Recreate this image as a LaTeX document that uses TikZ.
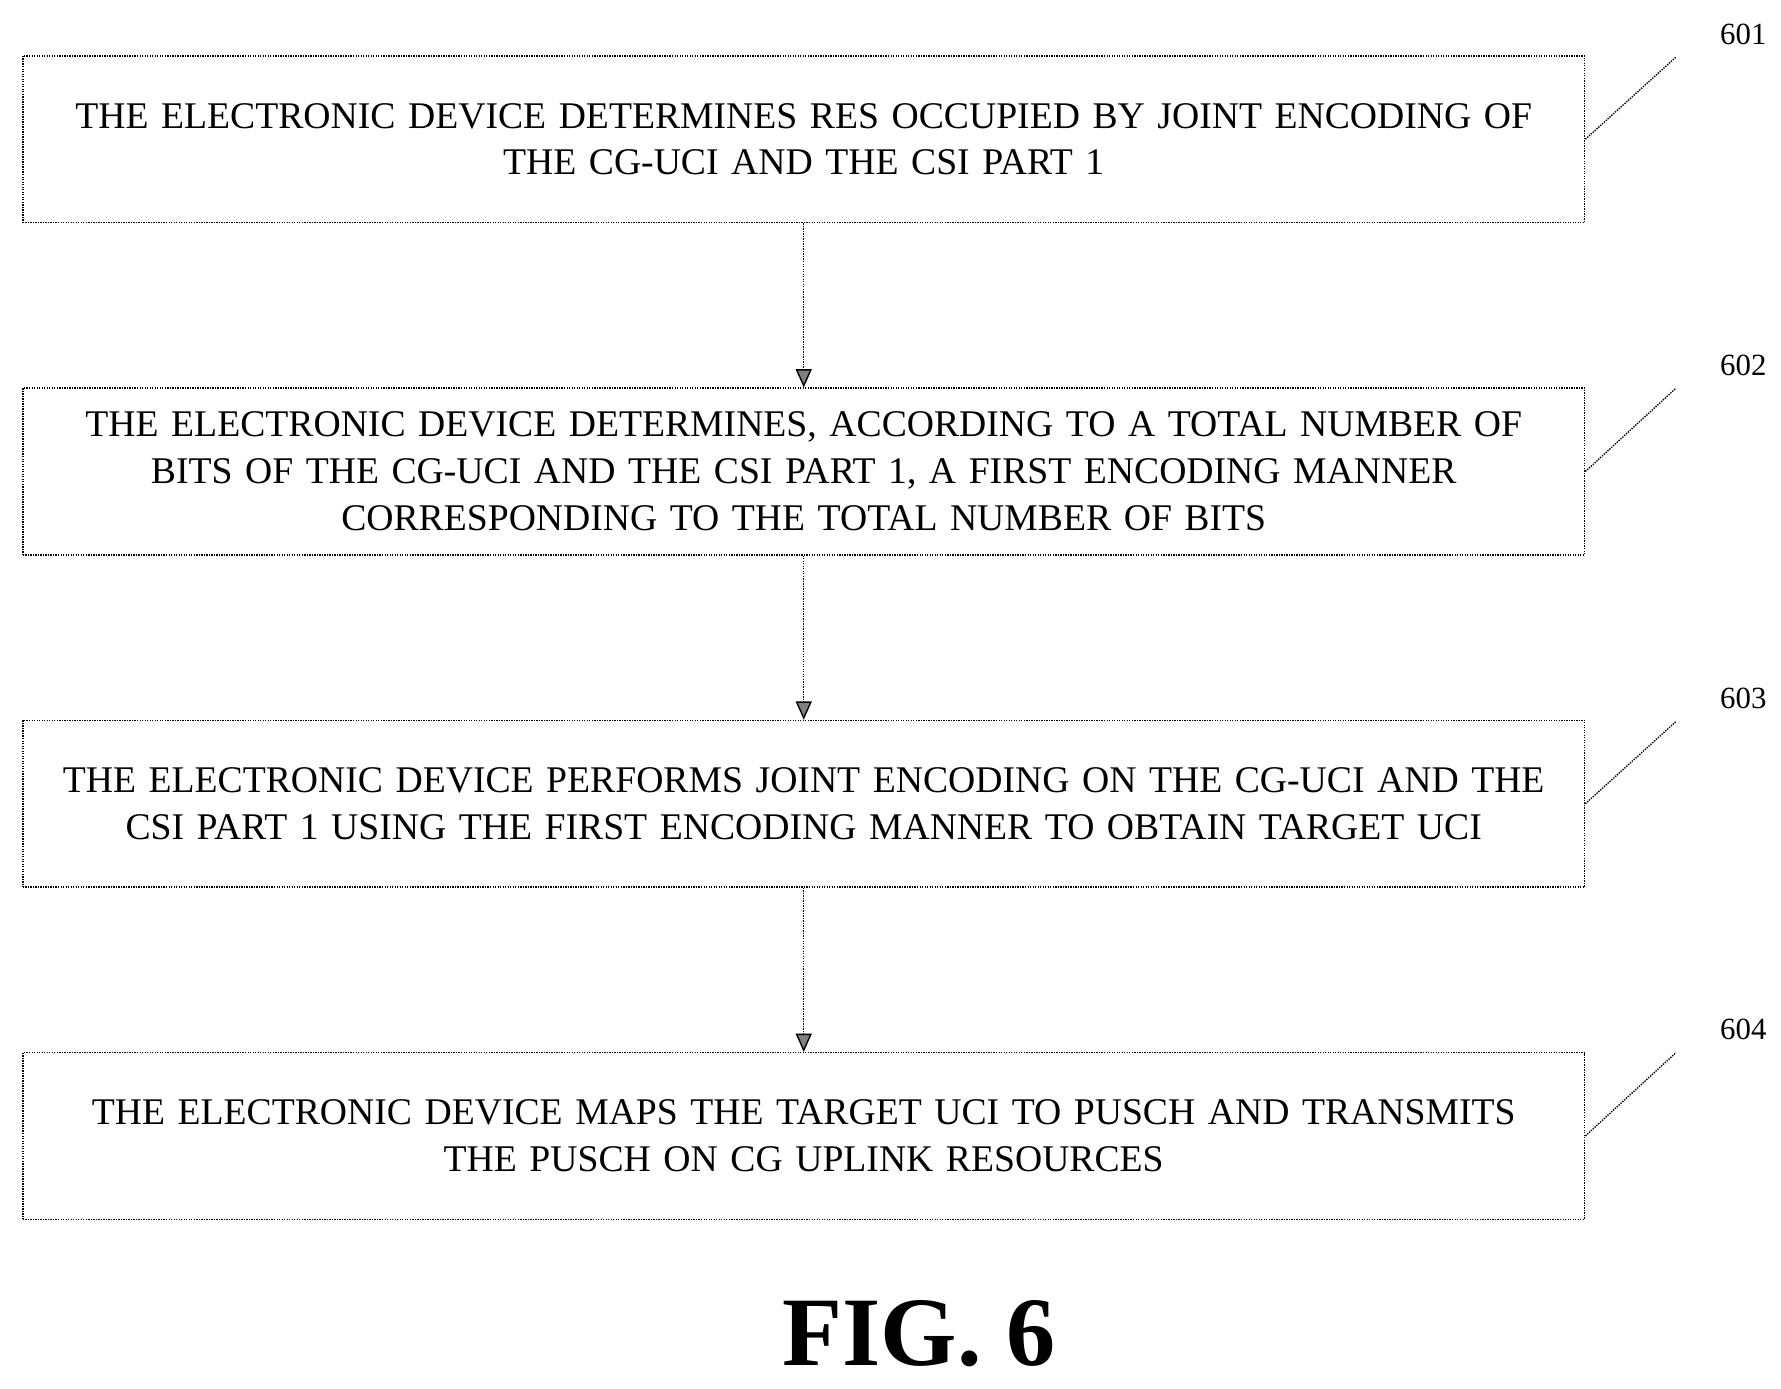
\documentclass[tikz,border=0pt]{standalone}
\usepackage{fontspec}
\setmainfont{Liberation Serif}
\usetikzlibrary{arrows.meta}
\begin{document}
\begin{tikzpicture}[x=1pt,y=1pt,yscale=-1,
  box/.style={draw,densely dotted,line width=1.2pt,minimum width=1368pt,minimum height=146pt,align=center,text width=1340pt,font=\fontsize{33}{41}\selectfont},
  steplabel/.style={font=\fontsize{27}{30}\selectfont},
  link/.style={densely dotted,line width=1.2pt,-{Triangle[length=16pt,width=14pt,fill=gray]}}]
\useasboundingbox (0,0) rectangle (1560,1216);

%Flowchart: Process boxes
\node [box] (b1) at (704,122) {THE ELECTRONIC DEVICE DETERMINES RES OCCUPIED BY JOINT ENCODING OF\\THE CG-UCI AND THE CSI PART 1};
\node [box] (b2) at (704,413) {THE ELECTRONIC DEVICE DETERMINES, ACCORDING TO A TOTAL NUMBER OF\\BITS OF THE CG-UCI AND THE CSI PART 1, A FIRST ENCODING MANNER\\CORRESPONDING TO THE TOTAL NUMBER OF BITS};
\node [box] (b3) at (704,704) {THE ELECTRONIC DEVICE PERFORMS JOINT ENCODING ON THE CG-UCI AND THE\\CSI PART 1 USING THE FIRST ENCODING MANNER TO OBTAIN TARGET UCI};
\node [box] (b4) at (704,995) {THE ELECTRONIC DEVICE MAPS THE TARGET UCI TO PUSCH AND TRANSMITS\\THE PUSCH ON CG UPLINK RESOURCES};

%Straight Lines
\draw [link] (b1) -- (b2);
\draw [link] (b2) -- (b3);
\draw [link] (b3) -- (b4);

%Step labels
\foreach \n/\y in {1/50,2/340,3/632,4/922}{
  \node [steplabel] (s\n) at (1527,\y-20) {60\n};
  \coordinate (t\n) at (1468,\y);
  \draw [densely dotted,line width=1.2pt] (b\n.east) -- (t\n);
}

% Text Node
\node [font=\bfseries\fontsize{86}{86}\selectfont] (fig) at (805,1168) {FIG. 6};
\end{tikzpicture}
\end{document}
